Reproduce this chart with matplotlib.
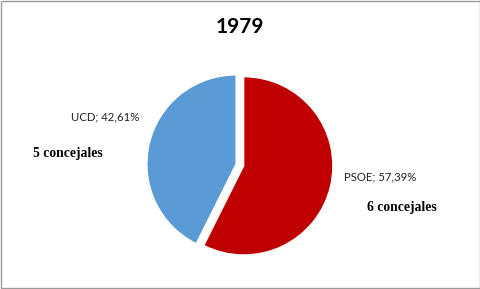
import matplotlib
matplotlib.use("Agg")
import matplotlib.pyplot as plt
from matplotlib.patches import Rectangle

# data
parties = ["PSOE", "UCD"]
shares = [57.39, 42.61]
seats = [6, 5]
colors = ["#C00000", "#5B9BD5"]
title = "1979"

fig = plt.figure(figsize=(4.81, 2.89), dpi=100)
fig.patch.set_facecolor("white")

# pie axes: centre at (236, 164) px, radius 89 px
W, H = 481.0, 289.0
cx, cy, r = 236, 164, 89
ax = fig.add_axes([(cx - r) / W, (H - cy - r) / H, 2 * r / W, 2 * r / H])
wedges, _ = ax.pie(shares, colors=colors, startangle=90, counterclock=False,
                   explode=[0.09, 0], wedgeprops=dict(linewidth=0.8, edgecolor="white"))
for w in wedges:
    w.set_clip_on(False)
ax.set_xlim(-1, 1)
ax.set_ylim(-1, 1)
ax.set_aspect("equal")
ax.axis("off")

fig.text(240 / W, 1 - 27 / H, title, ha="center", va="center",
         fontsize=15, fontweight="bold", family="Lato")

label_pos = {"PSOE": (344, 177), "UCD": (71, 117)}
seat_pos = {"PSOE": (367, 208), "UCD": (33, 153)}
for p, s, n in zip(parties, shares, seats):
    lx, ly = label_pos[p]
    fig.text(lx / W, 1 - ly / H, "%s; %s%%" % (p, ("%.2f" % s).replace(".", ",")),
             ha="left", va="center", fontsize=8.2, family="Lato", color="#222222")
    sx, sy = seat_pos[p]
    fig.text(sx / W, 1 - sy / H, "%d concejales" % n, ha="left", va="center",
             fontsize=9.8, fontweight="bold", family="Liberation Serif")

fig.patches.append(Rectangle((1.0 / W, 1.0 / H), (W - 2) / W, (H - 2) / H,
                             transform=fig.transFigure, fill=False,
                             edgecolor="#9a9a9a", linewidth=1))

fig.savefig("out.png", dpi=100, facecolor="white")
